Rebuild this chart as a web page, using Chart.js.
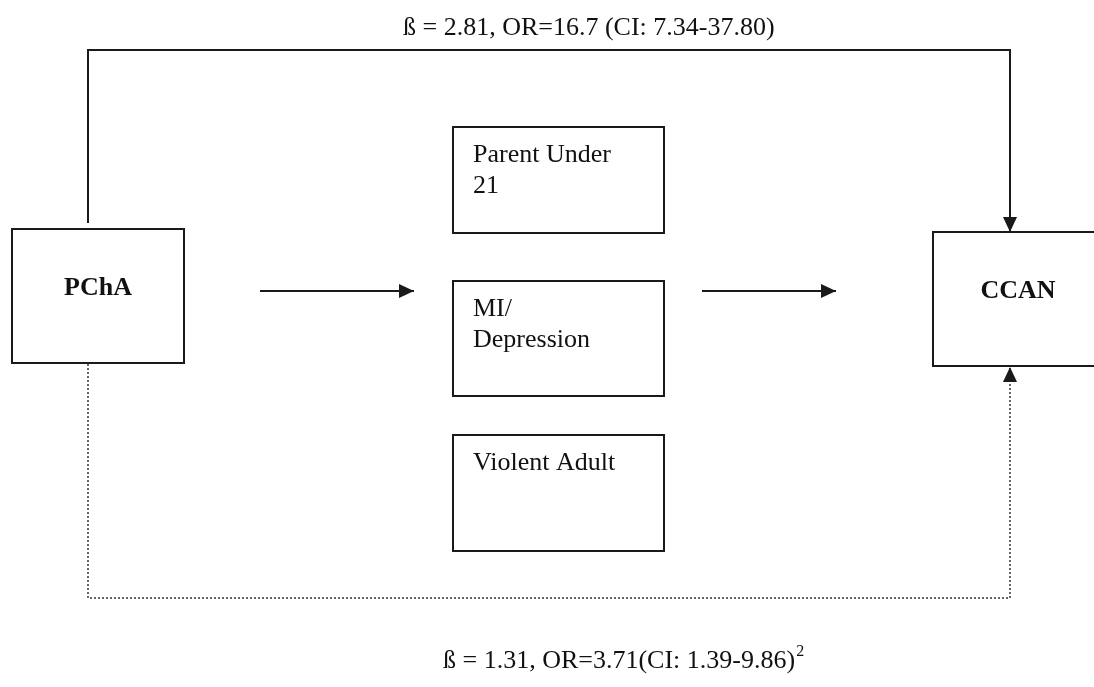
<!DOCTYPE html>
<html>
<head>
<meta charset="utf-8">
<script src="https://cdn.jsdelivr.net/npm/chart.js@4/dist/chart.umd.min.js"></script>
<style>
  html, body { margin: 0; padding: 0; background: #fff; }
  #wrap { position: relative; width: 1094px; height: 687px; }
</style>
</head>
<body>
<div id="wrap"><canvas id="diagram"></canvas></div>
<script>
// boxes of the path diagram (diagram units, y grows downward)
const boxLabels = ["PChA", "Parent Under\n21", "MI/\nDepression", "Violent Adult", "CCAN"];
const boxBold = [true, false, false, false, true];
const boxLeft = [12, 453, 453, 453, 933];
const boxRight = [184, 664, 664, 664, 1103];
const boxTop = [229, 127, 281, 435, 232];
const boxBottom = [363, 233, 396, 551, 366];

// connecting paths
const directPath = [[88, 223], [88, 50], [1010, 50], [1010, 232]];
const indirectPath = [[88, 364], [88, 598], [1010, 598], [1010, 367]];
const arrowIn = [[260, 291], [414, 291]];
const arrowOut = [[702, 291], [836, 291]];

// path annotations
const directNote = "ß = 2.81, OR=16.7 (CI: 7.34-37.80)";
const indirectNote = "ß = 1.31, OR=3.71(CI: 1.39-9.86)";
const indirectSup = "2";
const notePos = [[403, 35], [443, 668]];

const INK = "#1a1a1a";
const SERIF = "'Liberation Serif', 'Times New Roman', serif";

const toPts = (arr) => arr.map(([x, y]) => ({ x, y }));

const datasets = [];
boxLabels.forEach((lbl, i) => {
  const midX = (boxLeft[i] + boxRight[i]) / 2;
  // start mid-edge so every corner gets a proper join
  datasets.push({
    label: lbl,
    data: toPts([
      [midX, boxTop[i]],
      [boxRight[i], boxTop[i]],
      [boxRight[i], boxBottom[i]],
      [boxLeft[i], boxBottom[i]],
      [boxLeft[i], boxTop[i]],
      [midX, boxTop[i]],
    ]),
    borderColor: INK,
    borderWidth: 2,
  });
});
datasets.push({ label: "direct", data: toPts(directPath), borderColor: INK, borderWidth: 2, arrow: true });
datasets.push({ label: "indirect", data: toPts(indirectPath), borderColor: "#333", borderWidth: 1.5, borderDash: [2, 2], arrow: true });
datasets.push({ label: "in", data: toPts(arrowIn), borderColor: INK, borderWidth: 2, arrow: true });
datasets.push({ label: "out", data: toPts(arrowOut), borderColor: INK, borderWidth: 2, arrow: true });

const diagramPlugin = {
  id: "diagram",
  afterDatasetsDraw(chart) {
    const ctx = chart.ctx;
    const xs = chart.scales.x;
    const ys = chart.scales.y;
    const px = (v) => xs.getPixelForValue(v);
    const py = (v) => ys.getPixelForValue(v);

    ctx.save();
    // arrow heads at the end of flagged paths
    chart.data.datasets.forEach((ds, i) => {
      if (!ds.arrow) return;
      const pts = chart.getDatasetMeta(i).data;
      const a = pts[pts.length - 2];
      const b = pts[pts.length - 1];
      const ang = Math.atan2(b.y - a.y, b.x - a.x);
      const len = 15, half = 7;
      ctx.fillStyle = INK;
      ctx.beginPath();
      ctx.moveTo(b.x, b.y);
      ctx.lineTo(b.x - len * Math.cos(ang) + half * Math.sin(ang), b.y - len * Math.sin(ang) - half * Math.cos(ang));
      ctx.lineTo(b.x - len * Math.cos(ang) - half * Math.sin(ang), b.y - len * Math.sin(ang) + half * Math.cos(ang));
      ctx.closePath();
      ctx.fill();
    });

    // box labels
    ctx.fillStyle = "#111";
    ctx.textBaseline = "alphabetic";
    boxLabels.forEach((lbl, i) => {
      if (boxBold[i]) {
        ctx.font = "bold 26px " + SERIF;
        ctx.textAlign = "center";
        const cx = (px(boxLeft[i]) + px(boxRight[i])) / 2;
        ctx.fillText(lbl, cx, py(boxTop[i]) + 66);
      } else {
        ctx.font = "26px " + SERIF;
        ctx.textAlign = "left";
        lbl.split("\n").forEach((line, k) => {
          ctx.fillText(line, px(boxLeft[i]) + 20, py(boxTop[i]) + 35 + k * 31);
        });
      }
    });

    // notes
    ctx.font = "26px " + SERIF;
    ctx.textAlign = "left";
    ctx.fillText(directNote, px(notePos[0][0]), py(notePos[0][1]));
    ctx.fillText(indirectNote, px(notePos[1][0]), py(notePos[1][1]));
    const w = ctx.measureText(indirectNote).width;
    ctx.font = "16px " + SERIF;
    ctx.fillText(indirectSup, px(notePos[1][0]) + w + 1, py(notePos[1][1]) - 12);
    ctx.restore();
  },
};

new Chart(document.getElementById("diagram").getContext("2d"), {
  type: "scatter",
  data: { datasets },
  options: {
    responsive: true,
    maintainAspectRatio: false,
    animation: false,
    layout: { padding: 0 },
    showLine: true,
    elements: {
      point: { radius: 0, hoverRadius: 0 },
      line: { tension: 0, fill: false, borderJoinStyle: "miter", borderCapStyle: "butt" },
    },
    plugins: { legend: { display: false }, tooltip: { enabled: false } },
    scales: {
      x: { type: "linear", min: 0, max: 1094, display: false },
      y: { type: "linear", min: 0, max: 687, reverse: true, display: false },
    },
  },
  plugins: [diagramPlugin],
});
</script>
</body>
</html>
